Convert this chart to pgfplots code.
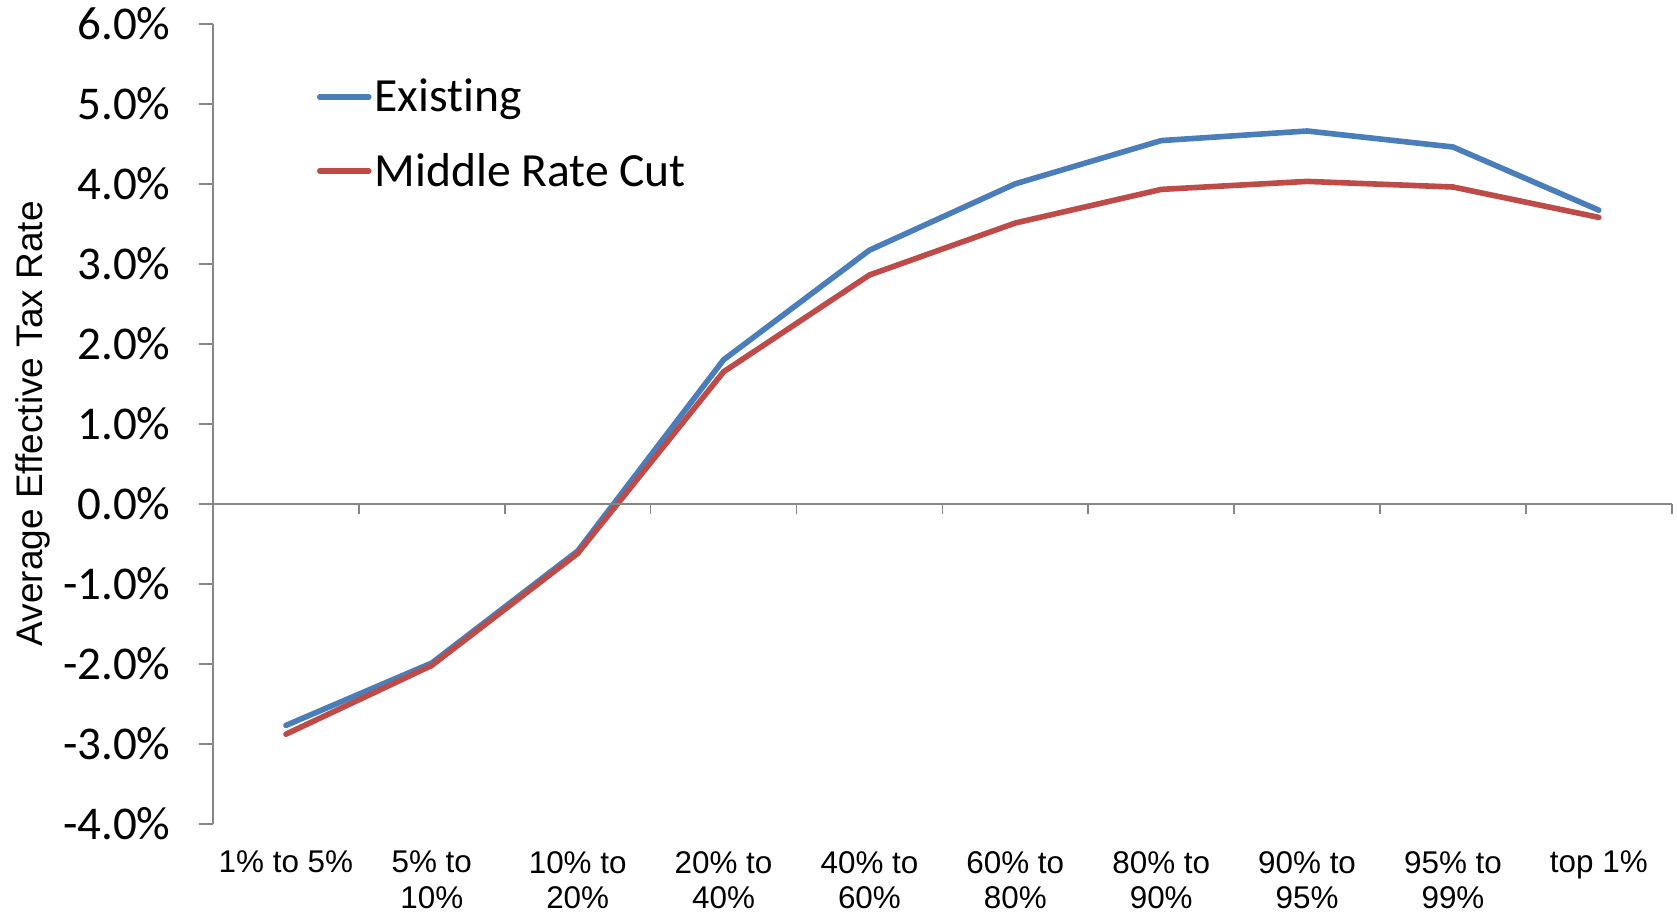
\documentclass[border=0pt]{standalone}
\usepackage{fontspec}
\setmainfont{Liberation Sans}
\newfontfamily\carlito[Ligatures=NoCommon]{Carlito}
\usepackage{pgfplots}
\usepackage{pgfplotstable}
\pgfplotsset{compat=1.18}

\definecolor{existing}{HTML}{4A7EBB}
\definecolor{midcut}{HTML}{BE4B48}
\definecolor{axisgray}{HTML}{868686}

% average effective tax rate (%) by income group
\pgfplotstableread{
x existing midcut
0 -2.77 -2.88
1 -1.99 -2.02
2 -0.59 -0.62
3  1.80  1.65
4  3.17  2.86
5  4.00  3.51
6  4.54  3.93
7  4.66  4.03
8  4.46  3.96
9  3.67  3.58
}\rates

\begin{document}
\begin{tikzpicture}
\path[use as bounding box] (-106.5pt,-45.1pt) rectangle (732pt,411.9pt);
\begin{axis}[
  at={(0,0)}, anchor=south west,
  scale only axis, width=729.4pt, height=400pt,
  xmin=-0.5, xmax=9.5, ymin=-4, ymax=6,
  clip=false,
  axis x line*=bottom, axis y line*=left,
  x axis line style={draw=none},
  y axis line style={draw=axisgray, line width=1pt},
  tick align=outside,
  major tick length=7pt,
  y tick style={draw=axisgray, line width=1pt},
  x tick style={draw=none},
  ytick={-4,-3,...,6},
  /pgf/number format/assume math mode=true,
  yticklabel={\pgfmathprintnumber[fixed,fixed zerofill,precision=1]{\tick}\%},
  yticklabel style={font=\carlito\fontsize{23.5}{27}\selectfont, anchor=east, inner sep=0pt, xshift=-14pt},
  xtick={0,...,9},
  xticklabels={{1\% to 5\%},{5\% to\\10\%},{10\% to\\20\%},{20\% to\\40\%},{40\% to\\60\%},{60\% to\\80\%},{80\% to\\90\%},{90\% to\\95\%},{95\% to\\99\%},{top 1\%}},
  xticklabel style={font=\fontsize{15.7}{17.6}\selectfont, align=center, anchor=north, inner sep=0pt, yshift=-6.5pt},
  legend cell align=left,
  legend style={draw=none, fill=none, inner sep=0pt, row sep=16pt,
    at={(axis description cs:0.071,0.935)}, anchor=north west,
    font=\carlito\fontsize{23.8}{27}\selectfont,
    nodes={inner sep=1.5pt}},
  legend image code/.code={\draw[#1, line width=2.8pt, line cap=round] (0pt,0pt) -- (24.5pt,0pt);},
]
\addplot[existing, line width=2.8pt, line cap=round, line join=round] table[x=x, y=existing] {\rates};
\addlegendentry{Existing}
\addplot[midcut, line width=2.8pt, line cap=round, line join=round] table[x=x, y=midcut] {\rates};
\addlegendentry{Middle Rate Cut}
\end{axis}
% zero line with category separators
\draw[axisgray, line width=1pt] (0pt,160pt) -- (729.4pt,160pt);
\foreach \i in {0,...,10} \draw[axisgray, line width=0.8pt] (\i*72.94pt,160pt) -- (\i*72.94pt,155pt);
\node[rotate=90, font=\fontsize{18.5}{21}\selectfont] at (-90pt,200pt) {Average Effective Tax Rate};
\end{tikzpicture}
\end{document}
